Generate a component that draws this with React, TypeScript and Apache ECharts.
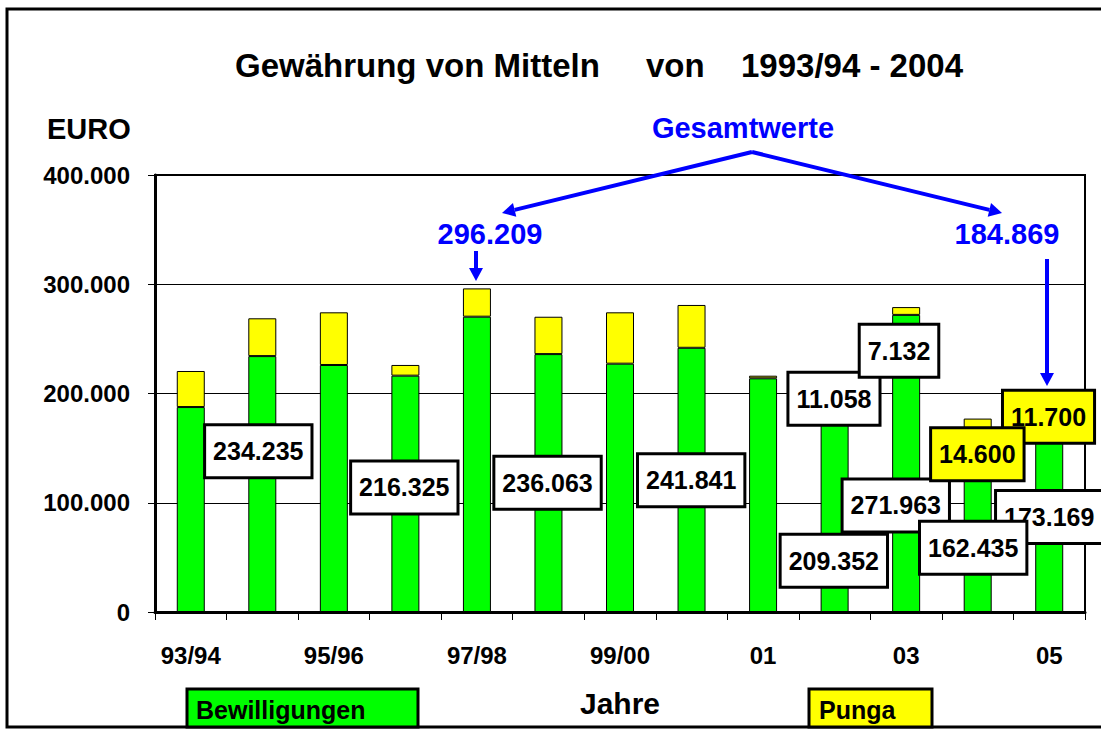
import React, { useEffect, useRef } from "react";
import * as echarts from "echarts";

// ---- data ----
const categories = ["93/94", "94/95", "95/96", "96/97", "97/98", "98/99", "99/00", "2000", "01", "02", "03", "04", "05"];
const bewilligungen = [187600, 234235, 226100, 216325, 270300, 236063, 227300, 241841, 213900, 209352, 271963, 162435, 173169];
const punga = [33000, 34600, 48200, 9800, 25909, 34200, 47000, 39200, 2400, 11058, 7132, 14600, 11700];
const yTicks = [0, 100000, 200000, 300000, 400000];
const gesamtwerte = [296209, 184869];

// annotation boxes: which value (series + index), anchored at [category units, value units]
const boxAnchors = [
  { src: "g", i: 12, x: 12.5, y: 87000 },
  { src: "p", i: 12, x: 12.49, y: 178800 },
  { src: "g", i: 10, x: 10.355, y: 97500 },
  { src: "p", i: 11, x: 11.495, y: 144400 },
  { src: "g", i: 11, x: 11.437, y: 58900 },
  { src: "g", i: 9, x: 9.489, y: 46900 },
  { src: "p", i: 9, x: 9.491, y: 195100 },
  { src: "p", i: 10, x: 10.4, y: 239200 },
  { src: "g", i: 1, x: 1.444, y: 147100 },
  { src: "g", i: 3, x: 3.485, y: 114000 },
  { src: "g", i: 5, x: 5.487, y: 118400 },
  { src: "g", i: 7, x: 7.495, y: 120600 },
];

const fmt = (n: number) => String(n).replace(/\B(?=(\d{3})+(?!\d))/g, ".");
const FONT = "'Liberation Sans', Arial, sans-serif";
const BLUE = "#0000ff";

function arrow(x1: number, y1: number, x2: number, y2: number, color: string, w: number) {
  const dx = x2 - x1, dy = y2 - y1;
  const len = Math.sqrt(dx * dx + dy * dy);
  const ux = dx / len, uy = dy / len;
  const hl = 13, hw = 7;
  const bx = x2 - ux * hl, by = y2 - uy * hl;
  return [
    { type: "line", shape: { x1, y1, x2: bx, y2: by }, style: { stroke: color, lineWidth: w }, z: 100 },
    {
      type: "polygon",
      shape: { points: [[x2, y2], [bx - uy * hw, by + ux * hw], [bx + uy * hw, by - ux * hw]] },
      style: { fill: color },
      z: 100,
    },
  ];
}

export default function App() {
  const ref = useRef<HTMLDivElement>(null);
  useEffect(() => {
    document.body.style.margin = "0";
    const chart = echarts.init(ref.current!, null, { renderer: "svg" });

    const boxData = boxAnchors.map((a) => {
      const v = a.src === "g" ? bewilligungen[a.i] : punga[a.i];
      const yellow = a.src === "p" && a.i >= 11;
      return {
        name: fmt(v),
        value: [a.x, a.y],
        label: { backgroundColor: yellow ? "#ffff00" : "#ffffff" },
      };
    });

    const txt = (text: string, x: number, y: number, size: number, color = "#000", align = "left") => ({
      type: "text",
      x,
      y,
      z: 100,
      style: {
        text,
        fill: color,
        font: `bold ${size}px ${FONT}`,
        textAlign: align,
        textVerticalAlign: "middle",
      },
    });

    chart.setOption({
      animation: false,
      backgroundColor: "#ffffff",
      textStyle: { fontFamily: FONT },
      grid: {
        left: 155,
        top: 175,
        width: 930,
        height: 437,
        outerBoundsMode: "none",
        containLabel: false,
        show: true,
        borderColor: "#000",
        borderWidth: 2,
        backgroundColor: "transparent",
      },
      xAxis: [
        {
          type: "category",
          data: categories,
          axisLine: { lineStyle: { color: "#000", width: 3 } },
          axisTick: { show: true, interval: 0, length: 8, alignWithLabel: false, lineStyle: { color: "#000", width: 1 } },
          axisLabel: { interval: 1, color: "#000", fontSize: 24, fontWeight: "bold", margin: 31, fontFamily: FONT },
          splitLine: { show: false },
          name: "Jahre",
          nameLocation: "middle",
          nameGap: 76,
          nameTextStyle: { color: "#000", fontSize: 30, fontWeight: "bold", fontFamily: FONT },
        },
        { type: "value", min: 0, max: 13, show: false },
      ],
      yAxis: {
        type: "value",
        min: yTicks[0],
        max: yTicks[yTicks.length - 1],
        interval: yTicks[1] - yTicks[0],
        axisLine: { show: true, lineStyle: { color: "#000", width: 3 } },
        axisTick: { show: true, length: 7, lineStyle: { color: "#000", width: 1 } },
        axisLabel: {
          formatter: (v: number) => fmt(v),
          color: "#000",
          fontSize: 24,
          fontWeight: "bold",
          margin: 25,
          fontFamily: FONT,
        },
        splitLine: { show: true, lineStyle: { color: "#000", width: 1 } },
      },
      series: [
        {
          name: "Bewilligungen",
          type: "bar",
          stack: "t",
          data: bewilligungen,
          barWidth: 28,
          itemStyle: { color: "#00ff00", borderColor: "#000", borderWidth: 1 },
        },
        {
          name: "Punga",
          type: "bar",
          stack: "t",
          data: punga,
          barWidth: 28,
          itemStyle: { color: "#ffff00", borderColor: "#000", borderWidth: 1 },
        },
        {
          type: "scatter",
          xAxisIndex: 1,
          yAxisIndex: 0,
          symbolSize: 1,
          itemStyle: { color: "#ffffff", opacity: 1 },
          emphasis: { disabled: true },
          z: 10,
          data: boxData,
          label: {
            show: true,
            position: "inside",
            formatter: "{b}",
            color: "#000",
            opacity: 1,
            fontSize: 25,
            fontWeight: "bold",
            fontFamily: FONT,
            lineHeight: 26,
            padding: [12, 7, 12, 7],
            borderColor: "#000",
            borderWidth: 3,
            textBorderWidth: 0,
            shadowBlur: 0,
          },
        },
      ],
      graphic: [
        {
          type: "rect",
          shape: { x: 7, y: 9, width: 1120, height: 718 },
          style: { fill: "none", stroke: "#000", lineWidth: 3 },
          z: 100,
        },
        txt("Gewährung von Mitteln", 235, 65, 33),
        txt("von", 646, 65, 33),
        txt("1993/94 - 2004", 963, 65, 33, "#000", "right"),
        txt("EURO", 47, 129, 29),
        txt("Gesamtwerte", 743, 128, 29, BLUE, "center"),
        txt(fmt(gesamtwerte[0]), 490, 234, 29, BLUE, "center"),
        txt(fmt(gesamtwerte[1]), 1007, 234, 29, BLUE, "center"),
        ...arrow(752, 152, 502, 213, BLUE, 4),
        ...arrow(752, 152, 1002, 213, BLUE, 4),
        ...arrow(476, 251, 476, 281, BLUE, 4),
        ...arrow(1047, 259, 1047, 386, BLUE, 4),
        {
          type: "rect",
          shape: { x: 187, y: 689, width: 231, height: 38 },
          style: { fill: "#00ff00", stroke: "#000", lineWidth: 3 },
          z: 100,
        },
        txt("Bewilligungen", 196, 710, 25),
        {
          type: "rect",
          shape: { x: 809, y: 689, width: 123, height: 38 },
          style: { fill: "#ffff00", stroke: "#000", lineWidth: 3 },
          z: 100,
        },
        txt("Punga", 819, 710, 25),
      ],
    });
    return () => chart.dispose();
  }, []);
  return <div ref={ref} style={{ width: 1101, height: 731 }} />;
}
